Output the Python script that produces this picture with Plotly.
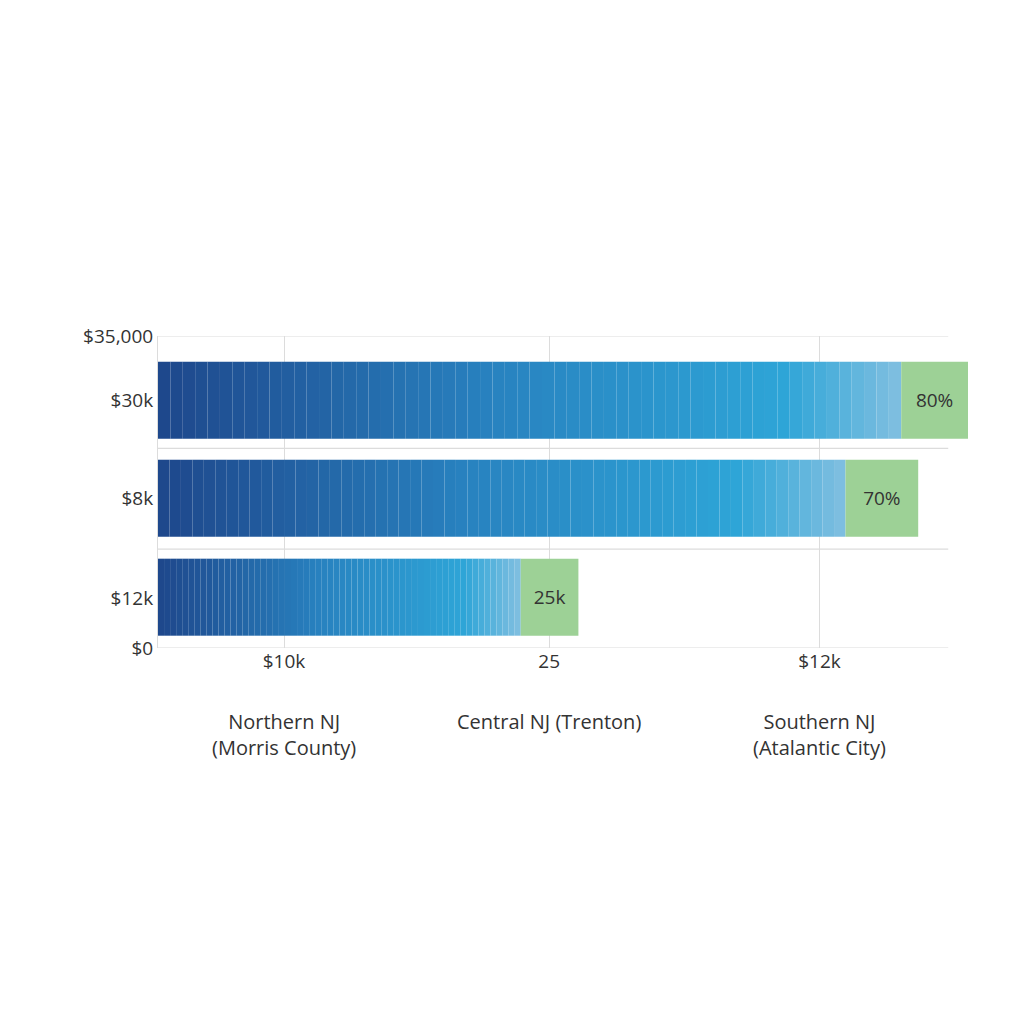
import plotly.graph_objects as go

# region data
bar_pos = [27.8, 16.8, 5.7]           # y positions of the bars
blue_len = [94.05, 87.0, 45.9]        # length of blue part
green_len = [8.45, 9.2, 7.3]          # length of green cap
cap_text = ["80%", "70%", "25k"]
ytick_vals = [35, 27.8, 16.8, 5.6, 0]
ytick_text = ["$35,000", "$30k", "$8k", "$12k", "$0"]
xtick_vals = [15.95, 49.5, 83.7]
xtick_text = ["$10k", "25", "$12k"]
categories = ["Northern NJ<br>(Morris County)", "Central NJ (Trenton)", "Southern NJ<br>(Atalantic City)"]
hgrid = [35, 22.4, 11.1, 0]
# endregion

stops = [(0.0, (30, 72, 140)), (0.45, (40, 130, 192)), (0.85, (46, 165, 215)), (1.0, (125, 190, 224))]
def grad(t):
    for (a, ca), (b, cb) in zip(stops, stops[1:]):
        if t <= b:
            f = (t - a) / (b - a)
            return "rgb(%d,%d,%d)" % tuple(round(x + (y - x) * f) for x, y in zip(ca, cb))
    return "rgb(125,190,224)"

fig = go.Figure()
N = 60
for yp, bl, gl, tx in zip(bar_pos, blue_len, green_len, cap_text):
    seg = bl / N
    fig.add_trace(go.Bar(
        x=[seg] * N, y=[yp] * N, base=[i * seg for i in range(N)],
        orientation="h", width=8.64,
        marker=dict(color=[grad(i / (N - 1)) for i in range(N)], line=dict(width=0)),
        showlegend=False, hoverinfo="skip"))
    fig.add_trace(go.Bar(
        x=[gl], y=[yp], base=[bl], orientation="h", width=8.64,
        marker=dict(color="#9dd196", line=dict(width=0)),
        text=[tx], textposition="inside", insidetextanchor="middle",
        textfont=dict(size=19, color="#333"), showlegend=False))

for h in hgrid:
    fig.add_shape(type="line", xref="x", yref="y", x0=0, x1=100, y0=h, y1=h,
                  line=dict(color="#dcdcdc", width=1.2), layer="below")

for xv, c in zip(xtick_vals, categories):
    fig.add_annotation(x=xv, y=0, yref="paper", yshift=-58, text=c, showarrow=False,
                       yanchor="top", font=dict(size=20, color="#333"))

fig.update_layout(
    width=1024, height=1024, barmode="overlay",
    margin=dict(l=150, r=64, t=328, b=384),
    plot_bgcolor="white", paper_bgcolor="white",
    font=dict(family="Open Sans", size=19, color="#333"),
    xaxis=dict(range=[0, 102.5], tickvals=xtick_vals, ticktext=xtick_text,
               showgrid=True, gridcolor="#dcdcdc", zeroline=False, ticks="", ticklen=0),
    yaxis=dict(range=[0, 35], tickvals=ytick_vals, ticktext=ytick_text,
               showgrid=False, zeroline=False, showline=True, linecolor="#dcdcdc", ticks=""),
)
fig.write_html("out.html")
